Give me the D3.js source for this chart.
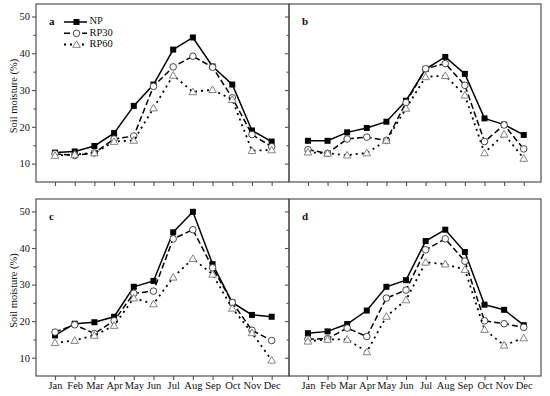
<!DOCTYPE html>
<html>
<head>
<meta charset="utf-8">
<script src="https://cdn.jsdelivr.net/npm/d3@7"></script>
<style>
  body { margin: 0; background: #fff; }
  text { font-family: "Liberation Serif", "Times New Roman", serif; fill: #111; }
  .tick-label { font-size: 10.5px; }
  .legend-text { font-size: 10.5px; }
  .panel-letter { font-size: 11px; font-weight: bold; }
</style>
</head>
<body>
<div id="chart"></div>
<script>
// month labels
var months = ["Jan","Feb","Mar","Apr","May","Jun","Jul","Aug","Sep","Oct","Nov","Dec"]
var yTicks = [10, 20, 30, 40, 50]
var yMinor = [15, 25, 35, 45]
var seriesNames = ["NP", "RP30", "RP60"]

// panel a
var npA   = [13.0, 13.3, 14.8, 18.3, 25.7, 31.5, 41.0, 44.3, 36.4, 31.5, 19.0, 16.0]
var rp30A = [12.7, 12.2, 12.9, 16.7, 17.5, 31.0, 36.3, 39.2, 36.2, 27.9, 17.9, 14.6]
var rp60A = [12.2, 12.5, 12.9, 16.0, 16.3, 25.1, 34.0, 29.5, 30.1, 27.4, 13.5, 13.7]
// panel b
var npB   = [16.2, 16.2, 18.5, 19.7, 21.4, 27.1, 35.7, 39.0, 34.4, 22.3, 20.6, 17.8]
var rp30B = [13.8, 12.8, 16.7, 17.2, 16.3, 26.6, 35.8, 37.2, 31.3, 16.0, 20.5, 14.0]
var rp60B = [13.1, 12.8, 12.3, 12.9, 16.3, 25.0, 33.6, 33.9, 28.6, 12.9, 18.0, 11.4]
// panel c
var npC   = [16.1, 19.3, 19.7, 21.2, 29.4, 31.0, 44.3, 49.9, 35.6, 25.1, 21.7, 21.2]
var rp30C = [17.0, 19.0, 16.6, 20.1, 27.6, 28.2, 42.5, 45.0, 34.6, 25.1, 17.5, 14.7]
var rp60C = [14.1, 14.7, 16.1, 18.8, 26.3, 24.7, 32.0, 37.1, 32.8, 23.5, 16.8, 9.3]
// panel d
var npD   = [16.7, 17.2, 19.2, 22.9, 29.4, 31.2, 41.9, 45.0, 38.9, 24.5, 23.1, 18.9]
var rp30D = [15.1, 15.2, 18.1, 15.8, 26.3, 28.5, 39.5, 42.5, 36.4, 20.1, 19.3, 18.3]
var rp60D = [14.5, 15.0, 15.0, 11.6, 21.3, 25.8, 36.1, 35.6, 34.1, 17.7, 13.4, 15.4]

var panels = [
    {letter: "a", left: 36,  right: 289, top: 4,   bottom: 182, yLabels: true,  xLabels: false, legend: true,  data: [npA, rp30A, rp60A]},
    {letter: "b", left: 289, right: 541, top: 4,   bottom: 182, yLabels: false, xLabels: false, legend: false, data: [npB, rp30B, rp60B]},
    {letter: "c", left: 36,  right: 289, top: 199, bottom: 376, yLabels: true,  xLabels: true,  legend: false, data: [npC, rp30C, rp60C]},
    {letter: "d", left: 289, right: 541, top: 199, bottom: 376, yLabels: false, xLabels: true,  legend: false, data: [npD, rp30D, rp60D]}
]

var axisColor = "#505050"
var styles = [
    {dash: null,  width: 1.5, marker: "square"},
    {dash: "6,3", width: 1.5, marker: "circle"},
    {dash: "2,4", width: 1.8, marker: "triangle"}
]

var svg = d3.select("#chart")
    .append("svg")
        .attr("width", 550)
        .attr("height", 396)

function drawMarker(g, type, cx, cy){
    if (type == "square"){
        g.append("rect")
            .attr("x", cx - 3).attr("y", cy - 3)
            .attr("width", 6).attr("height", 6)
            .attr("fill", "#000")
    } else if (type == "circle"){
        g.append("circle")
            .attr("cx", cx).attr("cy", cy).attr("r", 3.3)
            .attr("fill", "#fff")
            .attr("stroke", "#333")
            .attr("stroke-width", 0.9)
    } else {
        var s = 3.8
        g.append("path")
            .attr("d", "M" + cx + "," + (cy - s) + "L" + (cx + s) + "," + (cy + s * 0.75) + "L" + (cx - s) + "," + (cy + s * 0.75) + "Z")
            .attr("fill", "#fff")
            .attr("stroke", "#777")
            .attr("stroke-width", 0.9)
    }
}

function drawPanel(p){
    var x = d3.scaleLinear()
        .domain([0.035, 12.88])
        .range([p.left, p.right])

    var y = d3.scaleLinear()
        .domain([5, 53.4])
        .range([p.bottom, p.top])

    var g = svg.append("g")

    // frame
    g.append("rect")
        .attr("x", p.left).attr("y", p.top)
        .attr("width", p.right - p.left)
        .attr("height", p.bottom - p.top)
        .attr("fill", "none")
        .attr("stroke", axisColor)
        .attr("stroke-width", 1.2)

    // bottom axis, outward ticks
    var xAxis = d3.axisBottom(x)
        .tickValues(d3.range(1, 13))
        .tickSize(4)
        .tickFormat(p.xLabels ? function(d){ return months[d - 1] } : "")
    var xg = g.append("g")
        .attr("transform", "translate(0," + p.bottom + ")")
        .call(xAxis)
    xg.select(".domain").remove()
    xg.selectAll("line").attr("stroke", axisColor).attr("stroke-width", 1.1)
    xg.selectAll("text")
        .attr("class", "tick-label")
        .attr("dy", "0.6em")
        .style("font-family", "Liberation Serif")
        .attr("fill", "#111")

    // left axis, outward ticks
    var yAxis = d3.axisLeft(y)
        .tickValues(yTicks)
        .tickSize(4)
        .tickPadding(2)
        .tickFormat(p.yLabels ? d3.format("d") : "")
    var yg = g.append("g")
        .attr("transform", "translate(" + p.left + ",0)")
        .call(yAxis)
    yg.select(".domain").remove()
    yg.selectAll("line").attr("stroke", axisColor).attr("stroke-width", 1.1)
    yg.selectAll("text")
        .attr("class", "tick-label")
        .style("font-family", "Liberation Serif")
        .attr("fill", "#111")

    var yMinorAxis = d3.axisLeft(y).tickValues(yMinor).tickSize(2.5).tickFormat("")
    var ymg = g.append("g")
        .attr("transform", "translate(" + p.left + ",0)")
        .call(yMinorAxis)
    ymg.select(".domain").remove()
    ymg.selectAll("line").attr("stroke", axisColor).attr("stroke-width", 1.1)

    if (p.yLabels){
        g.append("text")
            .attr("transform", "rotate(-90)")
            .attr("x", -((p.top + p.bottom) / 2 + 3))
            .attr("y", 17)
            .attr("text-anchor", "middle")
            .style("font-size", "10.5px")
            .text("Soil moisture (%)")
    }

    g.append("text")
        .attr("class", "panel-letter")
        .attr("x", p.left + 13)
        .attr("y", p.top + 20.5)
        .text(p.letter)

    // series
    p.data.forEach(function(values, si){
        var st = styles[si]
        var line = d3.line()
            .x(function(d, i){ return x(i + 1) })
            .y(function(d){ return y(d) })
        var sg = g.append("g")
        sg.append("path")
            .datum(values)
            .attr("d", line)
            .attr("fill", "none")
            .attr("stroke", "#000")
            .attr("stroke-width", st.width)
            .attr("stroke-dasharray", st.dash)
        values.forEach(function(v, i){
            drawMarker(sg, st.marker, x(i + 1), y(v))
        })
    })

    if (p.legend){
        var rows = [22, 33.3, 44.5]
        seriesNames.forEach(function(name, si){
            var st = styles[si]
            var lg = g.append("g")
            lg.append("line")
                .attr("x1", 64).attr("x2", 87)
                .attr("y1", rows[si]).attr("y2", rows[si])
                .attr("stroke", "#000")
                .attr("stroke-width", st.width)
                .attr("stroke-dasharray", st.dash)
            drawMarker(lg, st.marker, 76.5, rows[si])
            lg.append("text")
                .attr("class", "legend-text")
                .attr("x", 89.5)
                .attr("y", rows[si])
                .attr("dominant-baseline", "middle")
                .text(name)
        })
    }
}

panels.forEach(drawPanel)
</script>
</body>
</html>
